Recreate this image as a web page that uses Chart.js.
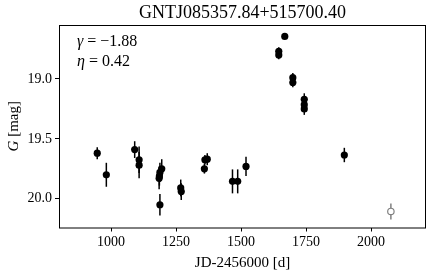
<!DOCTYPE html>
<html>
<head>
<meta charset="utf-8">
<script src="https://cdn.jsdelivr.net/npm/chart.js@4"></script>
<style>
    html, body { margin: 0; padding: 0; background: #fff; }
    #lc { display: block; }
</style>
</head>
<body>
<canvas id="lc" width="436" height="276"></canvas>
<script>
// light curve values
const jd = [947, 982, 1091, 1108, 1108, 1185, 1186, 1188, 1195, 1188, 1268, 1270, 1359, 1361, 1370, 1467, 1487, 1519, 1645, 1645, 1668, 1699, 1699, 1743, 1743, 1743, 1897];
const mag = [19.62, 19.80, 19.59, 19.675, 19.72, 19.83, 19.81, 19.78, 19.75, 20.05, 19.91, 19.94, 19.75, 19.675, 19.67, 19.855, 19.855, 19.73, 18.77, 18.80, 18.645, 18.99, 19.03, 19.17, 19.215, 19.25, 19.635];
const magErr = [0.05, 0.10, 0.07, 0.11, 0.11, 0.09, 0.08, 0.08, 0.08, 0.09, 0.07, 0.07, 0.04, 0.04, 0.05, 0.10, 0.10, 0.08, 0.035, 0.035, 0.02, 0.04, 0.04, 0.05, 0.05, 0.05, 0.06];

// faint (open) point
const jdFaint = [2076];
const magFaint = [20.106];
const magErrFaint = [0.067];

const xTicks = [1000, 1250, 1500, 1750, 2000];
const yTicks = [19.0, 19.5, 20.0];

const titleText = 'GNTJ085357.84+515700.40';
const annot = [
    { sym: '\u03b3', rest: ' = \u22121.88' },
    { sym: '\u03b7', rest: ' = 0.42' }
];

const SERIF = '"Liberation Serif", "DejaVu Serif", serif';

const errorBars = {
    id: 'errorBars',
    beforeDatasetsDraw(chart) {
        const { ctx, scales: { x, y } } = chart;
        ctx.save();
        chart.data.datasets.forEach(ds => {
            ctx.strokeStyle = ds.errColor;
            ctx.lineWidth = 1.5;
            ds.data.forEach((p, i) => {
                const px = x.getPixelForValue(p.x);
                ctx.beginPath();
                ctx.moveTo(px, y.getPixelForValue(p.y - ds.errs[i]));
                ctx.lineTo(px, y.getPixelForValue(p.y + ds.errs[i]));
                ctx.stroke();
            });
        });
        ctx.restore();
    }
};

// italic symbol followed by upright text
function mixedText(ctx, sym, rest, x, y, size) {
    ctx.font = 'italic ' + size + 'px ' + SERIF;
    ctx.fillText(sym, x, y);
    const w = ctx.measureText(sym).width;
    ctx.font = size + 'px ' + SERIF;
    ctx.fillText(rest, x + w, y);
}

const frameAndText = {
    id: 'frameAndText',
    afterDraw(chart) {
        const { ctx, chartArea: a } = chart;
        ctx.save();
        ctx.strokeStyle = '#000';
        ctx.lineWidth = 1;
        ctx.strokeRect(a.left + 0.5, a.top + 0.5, a.right - a.left - 1, a.bottom - a.top);

        ctx.fillStyle = '#000';
        ctx.textBaseline = 'middle';

        // title
        ctx.textAlign = 'center';
        ctx.font = '18px ' + SERIF;
        ctx.fillText(titleText, (a.left + a.right) / 2, 13);

        // x label
        ctx.font = '15px ' + SERIF;
        ctx.fillText('JD-2456000 [d]', (a.left + a.right) / 2, 263);

        // y label with italic G
        ctx.save();
        ctx.translate(14, (a.top + a.bottom) / 2);
        ctx.rotate(-Math.PI / 2);
        ctx.textAlign = 'left';
        ctx.font = 'italic 15px ' + SERIF;
        const gW = ctx.measureText('G').width;
        ctx.font = '15px ' + SERIF;
        const restW = ctx.measureText(' [mag]').width;
        mixedText(ctx, 'G', ' [mag]', -(gW + restW) / 2, 0, 15);
        ctx.restore();

        // annotation
        ctx.textAlign = 'left';
        mixedText(ctx, annot[0].sym, annot[0].rest, a.left + 18, 42, 16);
        mixedText(ctx, annot[1].sym, annot[1].rest, a.left + 18, 62, 16);
        ctx.restore();
    }
};

new Chart(document.getElementById('lc'), {
    type: 'scatter',
    data: {
        datasets: [
            {
                data: jd.map((v, i) => ({ x: v, y: mag[i] })),
                errs: magErr,
                errColor: '#000',
                pointRadius: 3.6,
                pointBackgroundColor: '#000',
                pointBorderColor: '#000',
                pointBorderWidth: 0
            },
            {
                data: jdFaint.map((v, i) => ({ x: v, y: magFaint[i] })),
                errs: magErrFaint,
                errColor: '#808080',
                pointRadius: 3.2,
                pointBackgroundColor: '#fff',
                pointBorderColor: '#808080',
                pointBorderWidth: 1.2
            }
        ]
    },
    options: {
        responsive: false,
        animation: false,
        devicePixelRatio: 1,
        layout: { padding: { left: 0, right: 10, top: 25, bottom: 0 } },
        plugins: { legend: { display: false }, tooltip: { enabled: false }, title: { display: false } },
        scales: {
            x: {
                type: 'linear',
                min: 800,
                max: 2211,
                afterBuildTicks: s => { s.ticks = xTicks.map(v => ({ value: v })); },
                afterFit: s => { s.height = 48.5; },
                grid: { drawOnChartArea: false, drawTicks: true, tickLength: 4, tickColor: '#000' },
                border: { display: false },
                ticks: { color: '#000', font: { family: SERIF, size: 14 }, padding: 2, maxRotation: 0, callback: v => String(v) }
            },
            y: {
                type: 'linear',
                reverse: true,
                min: 18.55,
                max: 20.24,
                afterBuildTicks: s => { s.ticks = yTicks.map(v => ({ value: v })); },
                afterFit: s => { s.width = 59; },
                grid: { drawOnChartArea: false, drawTicks: true, tickLength: 4, tickColor: '#000' },
                border: { display: false },
                ticks: { color: '#000', font: { family: SERIF, size: 14 }, padding: 3, callback: v => v.toFixed(1) }
            }
        }
    },
    plugins: [errorBars, frameAndText]
});
</script>
</body>
</html>
